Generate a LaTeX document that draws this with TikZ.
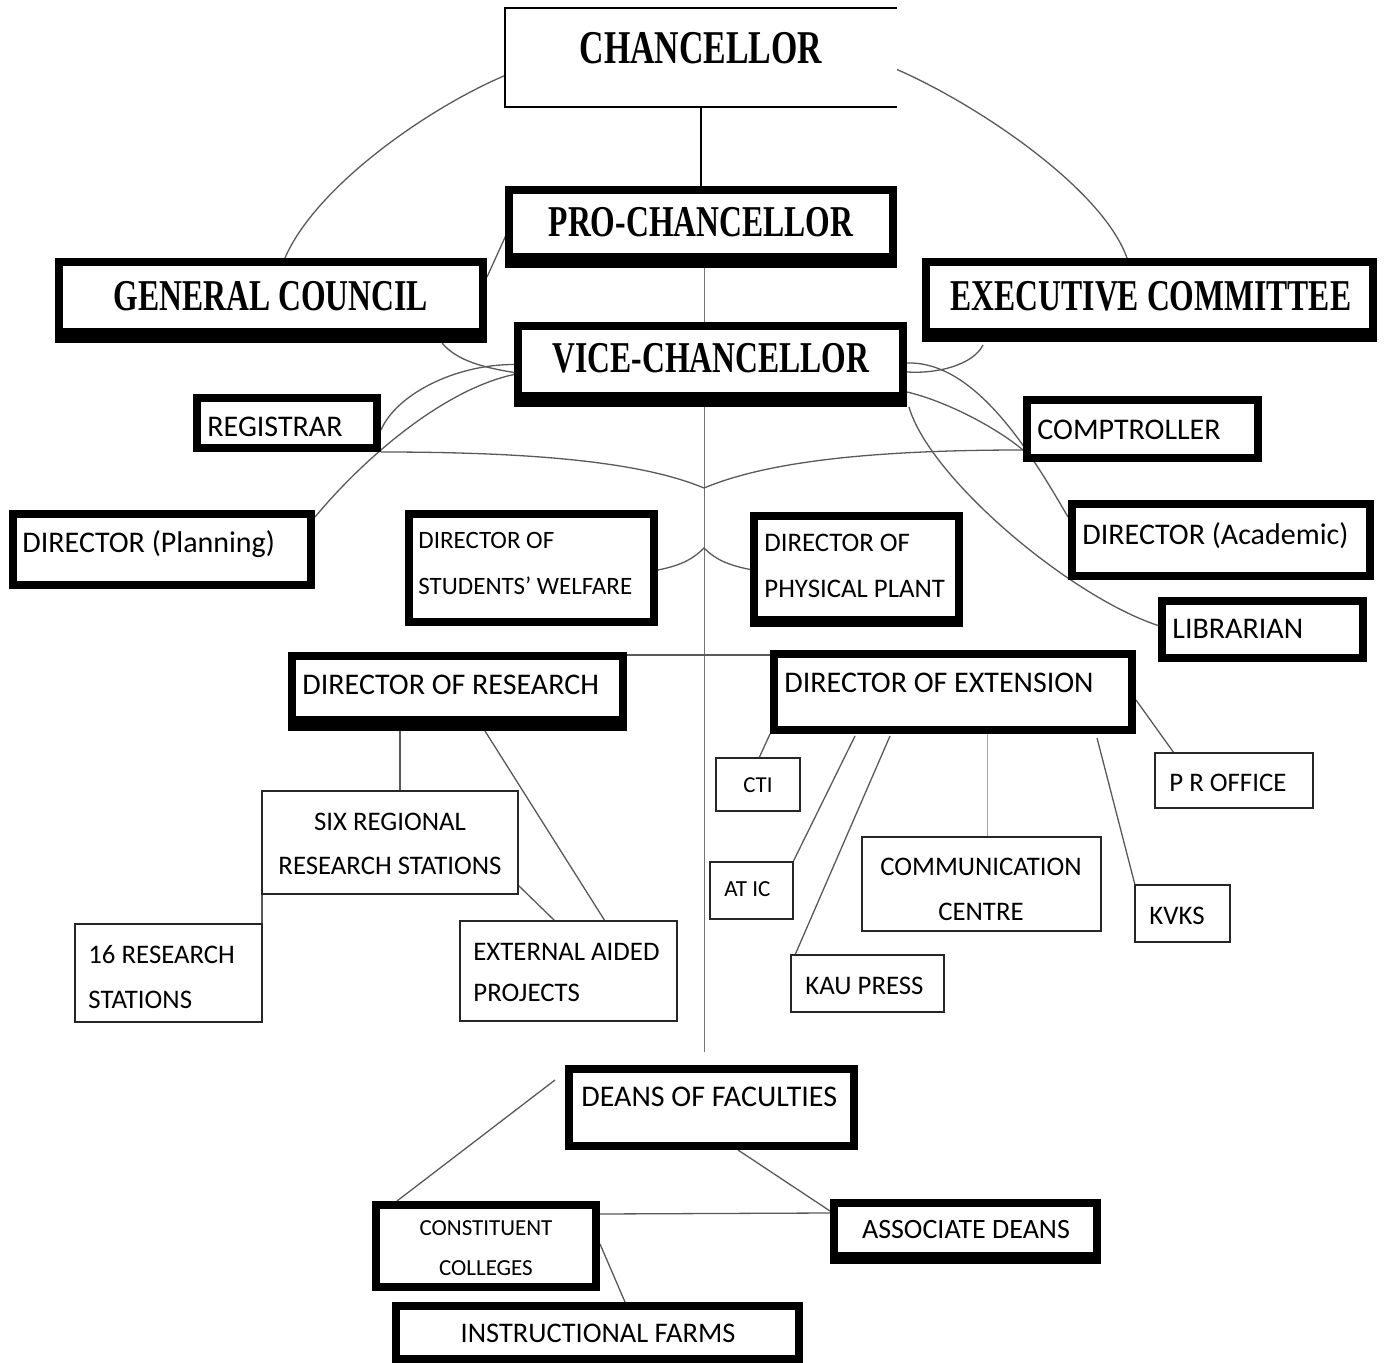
\documentclass[tikz,border=0pt]{standalone}
\usepackage{fontspec}
\setmainfont{Carlito}
\newfontfamily\ttlfont[FakeStretch=0.72]{Liberation Serif}
\usetikzlibrary{fit,calc,backgrounds}
\newcommand\heavybox[5]{\node[heavy, fit={(#2+4,#3+4)(#4-4,#5-4)}] (#1) {};}
\newcommand\thinbox[5]{\node[thinb, fit={(#2,#3)(#4,#5)}] (#1) {};}
\newcommand\botbar[2]{\fill ($(#1.south west)+(-4,4)$) rectangle ($(#1.south east)+(4,4-#2)$);}
\tikzset{
  heavy/.style={draw=black, line width=4pt, fill=white, inner sep=0pt, outer sep=0pt},
  thinb/.style={draw=black!85, line width=0.75pt, fill=white, inner sep=0pt, outer sep=0pt},
  conn/.style={draw=black!65, line width=0.65pt},
  lbl/.style={inner sep=0pt, text=black},
  ttl/.style={lbl, font=\ttlfont\bfseries\fontsize{22}{26}\selectfont},
  sz/.style={font=\fontsize{#1}{#1}\selectfont},
}
\begin{document}
\begin{tikzpicture}[x=0.5pt,y=-0.5pt]
\useasboundingbox (0,0) rectangle (1387,1363);
% ---------- boxes ----------
\node[thinb, draw=none, fit={(505,8)(897,107)}] (ch) {};
\draw[black, line width=0.75pt] (ch.north east) -- (ch.north west) -- (ch.south west) -- (ch.south east);
\heavybox{pro}{505}{186}{897}{268}\botbar{pro}{15}
\heavybox{gc}{55}{258}{487}{343}\botbar{gc}{15}
\heavybox{ec}{922}{258}{1377}{342}\botbar{ec}{14}
\heavybox{vc}{514}{322}{907}{407}\botbar{vc}{15}
\heavybox{reg}{193}{394}{381}{452}
\heavybox{comp}{1023}{396}{1262}{462}
\heavybox{dpl}{9}{510}{315}{589}
\heavybox{dsw}{405}{510}{658}{626}
\heavybox{dpp}{750}{512}{963}{627}\botbar{dpp}{11}
\heavybox{dac}{1068}{500}{1374}{580}
\heavybox{lib}{1158}{597}{1367}{662}
\heavybox{dor}{288}{652}{627}{731}\botbar{dor}{15}
\heavybox{doe}{770}{650}{1136}{734}
\thinbox{srrs}{262}{791}{518}{894}
\thinbox{rs16}{75}{924}{262}{1022}
\thinbox{eap}{460}{921}{677}{1021}
\thinbox{cti}{716}{758}{800}{811}
\thinbox{atic}{710}{862}{793}{919}
\thinbox{kau}{791}{955}{944}{1012}
\thinbox{cc}{862}{837}{1101}{931}
\thinbox{kvk}{1135}{885}{1230}{942}
\thinbox{pr}{1155}{753}{1313}{808}
\heavybox{dof}{565}{1065}{858}{1150}
\heavybox{cons}{372}{1201}{600}{1291}
\heavybox{ad}{830}{1199}{1101}{1264}\botbar{ad}{12}
\heavybox{ifm}{392}{1302}{803}{1363}
% ---------- texts ----------
\node[ttl, anchor=base, font=\ttlfont\bfseries\fontsize{23.5}{26}\selectfont] (t-ch) at (701,64) {CHANCELLOR};
\node[ttl, anchor=base] (t-pro) at (701,237) {PRO-CHANCELLOR};
\node[ttl, anchor=base] (t-gc) at (271,311) {GENERAL COUNCIL};
\node[ttl, anchor=base] (t-ec) at (1151,311) {EXECUTIVE COMMITTEE};
\node[ttl, anchor=base] (t-vc) at (711,373) {VICE-CHANCELLOR};
\node[lbl, sz=15, anchor=base west] (t-reg) at (207,437) {REGISTRAR};
\node[lbl, sz=15, anchor=base west] (t-comp) at (1037,440) {COMPTROLLER};
\node[lbl, sz=15, anchor=base west] (t-dpl) at (22,553) {DIRECTOR (Planning)};
\node[lbl, sz=15, anchor=base west] (t-dac) at (1082,545) {DIRECTOR (Academic)};
\node[lbl, sz=15, anchor=base west] (t-lib) at (1172,639) {LIBRARIAN};
\node[lbl, sz=15, anchor=base west] (t-dor) at (302,695) {DIRECTOR OF RESEARCH};
\node[lbl, sz=15, anchor=base west] (t-doe) at (784,692) {DIRECTOR OF EXTENSION};
\node[lbl, sz=15, anchor=base west] (t-dof) at (581,1106) {DEANS OF FACULTIES};
\node[lbl, sz=12.5, anchor=base west] (t-dsw1) at (418,549) {DIRECTOR OF};
\node[lbl, sz=12.5, anchor=base west] (t-dsw2) at (418,595) {STUDENTS’ WELFARE};
\node[lbl, sz=13.4, anchor=base west] (t-dpp1) at (764,552) {DIRECTOR OF};
\node[lbl, sz=13.4, anchor=base west] (t-dpp2) at (764,598) {PHYSICAL PLANT};
\node[lbl, sz=13.4, anchor=base] (t-srrs1) at (390,830) {SIX REGIONAL};
\node[lbl, sz=13.4, anchor=base] (t-srrs2) at (390,874) {RESEARCH STATIONS};
\node[lbl, sz=13.4, anchor=base west] (t-rs1) at (88,963) {16 RESEARCH};
\node[lbl, sz=13.4, anchor=base west] (t-rs2) at (88,1008) {STATIONS};
\node[lbl, sz=13.4, anchor=base west] (t-eap1) at (473,960) {EXTERNAL AIDED};
\node[lbl, sz=13.4, anchor=base west] (t-eap2) at (473,1001) {PROJECTS};
\node[lbl, sz=11.4, anchor=base] (t-cti) at (758,792) {CTI};
\node[lbl, sz=11.5, anchor=base west] (t-atic) at (724,896) {AT IC};
\node[lbl, sz=13.4, anchor=base west] (t-kau) at (805,994) {KAU PRESS};
\node[lbl, sz=13.4, anchor=base] (t-cc1) at (981,875) {COMMUNICATION};
\node[lbl, sz=13.4, anchor=base] (t-cc2) at (981,920) {CENTRE};
\node[lbl, sz=13.4, anchor=base west] (t-kvk) at (1149,924) {KVKS};
\node[lbl, sz=13.4, anchor=base west] (t-pr) at (1169,791) {P R OFFICE};
\node[lbl, sz=11.5, anchor=base] (t-cons1) at (486,1235) {CONSTITUENT};
\node[lbl, sz=11.5, anchor=base] (t-cons2) at (486,1275) {COLLEGES};
\node[lbl, sz=14, anchor=base] (t-ad) at (966,1238) {ASSOCIATE DEANS};
\node[lbl, sz=14.2, anchor=base] (t-ifm) at (598,1342) {INSTRUCTIONAL FARMS};
% ---------- connectors ----------
\coordinate (cusp1) at (704,488);
\coordinate (cusp2) at (704,548);
\begin{pgfonlayer}{background}
\draw[black, line width=0.6pt] (ch.south) -- (pro.north);
\draw[draw=black!55, line width=0.5pt] ($(pro.south)+(3,0)$) -- ($(pro.south |- dof.north)+(3,-17)$);
\draw[conn] ($(ch.west)+(0,18)$) .. controls +(-80,34) and +(30,-70) .. ($(gc.north)+(14,-4)$);
\draw[conn] ($(ch.east)+(0,12)$) .. controls +(80,35) and +(-25,-70) .. ($(ec.north west)+(201,-4)$);
\draw[conn] ($(gc.north east)+(4,15)$) -- ($(pro.west)+(-2,6)$);
\draw[conn] ($(gc.south east)+(-41,4)$) .. controls +(15,18) and +(-30,-5) .. ($(vc.west)+(-4,8)$);
\draw[conn] ($(reg.east)+(4,7)$) .. controls +(15,-35) and +(-60,0) .. ($(vc.west)+(-4,0)$);
\draw[conn] ($(dpl.north east)+(4,3)$) .. controls +(50,-60) and +(-70,15) .. ($(vc.west)+(-4,10)$);
\draw[conn] ($(reg.south east)+(4,4)$) .. controls +(160,0) and +(-60,-25) .. (cusp1)
            .. controls +(60,-25) and +(-160,0) .. ($(comp.south west)+(-4,-8)$);
\draw[conn] ($(dsw.east)+(4,2)$) .. controls +(25,-5) and +(-10,10) .. (cusp2)
            .. controls +(10,10) and +(-25,-5) .. ($(dpp.west)+(-4,0)$);
\draw[conn] ($(dor.north east)+(4,-1)$) -- ($(doe.north west)+(-4,1)$);
\draw[conn] ($(vc.east)+(4,7.5)$) .. controls +(30,2) and +(-10,20) .. ($(ec.south west)+(57,7)$);
\draw[conn] ($(vc.east)+(4,-1.5)$) .. controls +(70,-2) and +(-35,-60) .. ($(dac.north west)+(-4,13)$);
\draw[conn] ($(vc.east)+(4,27.5)$) .. controls +(35,8) and +(-30,-25) .. ($(comp.south west)+(-4,-8)$);
\draw[conn] ($(vc.south east)+(6,4)$) .. controls +(20,70) and +(-90,-30) .. ($(lib.west)+(-4,-4)$);
\draw[conn] ($(dor.south -| srrs.north)+(10,0)$) -- ($(srrs.north)+(10,0)$);
\draw[conn] ($(dor.south west)+(193,4)$) -- ($(eap.north west)+(145,0)$);
\draw[conn] ($(srrs.south east)+(0,-9)$) -- ($(eap.north west)+(95,0)$);
\draw[conn] (srrs.south west) -- (rs16.north east);
\draw[conn] ($(doe.south west)+(-4,4)$) -- ($(cti.north)+(1,0)$);
\draw[conn] ($(doe.south west)+(81,6)$) -- (atic.north east);
\draw[conn] ($(doe.south west)+(116,6)$) -- ($(kau.north west)+(4,0)$);
\draw[draw=black!35, line width=0.6pt] ($(doe.south -| cc.north)+(6,0)$) -- ($(cc.north)+(6,0)$);
\draw[conn] ($(doe.south east)+(-35,8)$) -- (kvk.north west);
\draw[conn] ($(doe.east)+(4,8)$) -- ($(pr.north west)+(19,0)$);
\draw[conn] ($(dof.north west)+(-14,11)$) -- ($(cons.north west)+(21,-4)$);
\draw[conn] ($(dof.south west)+(169,4)$) -- ($(ad.north west)+(-4,8)$);
\draw[conn] ($(cons.north east)+(4,9)$) -- ($(ad.north west)+(-4,10)$);
\draw[conn] ($(cons.east)+(4,-2)$) -- ($(ifm.north west)+(229,-4)$);
\end{pgfonlayer}
\end{tikzpicture}
\end{document}
